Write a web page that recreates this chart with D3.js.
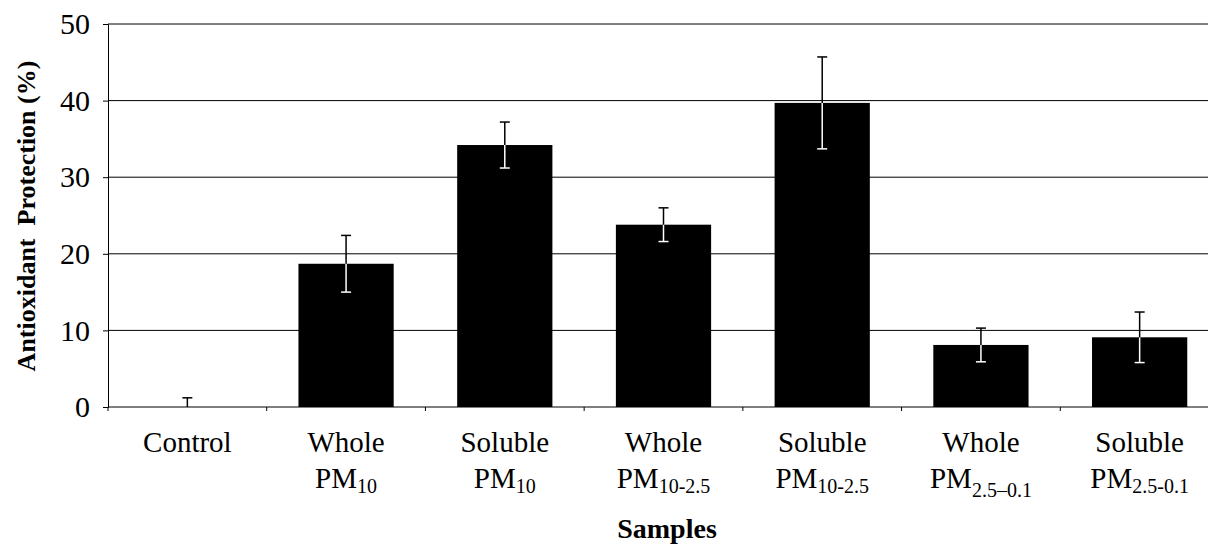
<!DOCTYPE html>
<html>
<head>
<meta charset="utf-8">
<script src="https://cdn.jsdelivr.net/npm/d3@7"></script>
<style>
	body { margin: 0; background: #fff; }
	svg text { font-family: "Liberation Serif", "DejaVu Serif", serif; }
</style>
</head>
<body>
<div class="chart"></div>
<script>
// data
const categories = ["Control", "Whole PM10", "Soluble PM10", "Whole PM10-2.5", "Soluble PM10-2.5", "Whole PM2.5-0.1 b", "Soluble PM2.5-0.1"];
const labelTop = ["Control", "Whole", "Soluble", "Whole", "Soluble", "Whole", "Soluble"];
const labelSub = ["", "10", "10", "10-2.5", "10-2.5", "2.5\u20130.1", "2.5-0.1"];
const subShift = [0, 5, 5, 5, 5, 9, 5];
const values = [0, 18.7, 34.2, 23.8, 39.7, 8.1, 9.1];
const errors = [1.2, 3.7, 3.0, 2.2, 6.0, 2.2, 3.3];
const yTicks = [0, 10, 20, 30, 40, 50];

const width = 1208;
const height = 545;
const margin = { left: 108, right: -11, top: 24, bottom: 138 };
const serif = "Liberation Serif";

const svg = d3.select(".chart").append("svg").attr("width", width).attr("height", height);

const x = d3
	.scaleBand()
	.domain(categories)
	.range([margin.left, width - margin.right])
	.paddingInner(0.4)
	.paddingOuter(0.2);

const y = d3
	.scaleLinear()
	.domain([0, 50])
	.range([height - margin.bottom, margin.top]);

// gridlines
svg.append("g")
	.selectAll("line")
	.data(yTicks.slice(1))
	.join("line")
	.attr("x1", margin.left)
	.attr("x2", width - margin.right)
	.attr("y1", (d) => y(d))
	.attr("y2", (d) => y(d))
	.attr("stroke", "#000")
	.attr("stroke-width", 1);

// bars
svg.append("g")
	.selectAll("rect")
	.data(values)
	.join("rect")
	.attr("x", (d, i) => x(categories[i]))
	.attr("width", x.bandwidth())
	.attr("y", (d) => y(d))
	.attr("height", (d) => y(0) - y(d))
	.attr("fill", "#000");

// error bars: white inside the bar, black above it
const err = svg.append("g").attr("stroke-width", 1.5);
values.forEach((v, i) => {
	const cx = x(categories[i]) + x.bandwidth() / 2;
	const lo = Math.max(0, v - errors[i]);
	const hi = v + errors[i];
	if (v > 0) {
		err.append("line").attr("x1", cx).attr("x2", cx).attr("y1", y(lo)).attr("y2", y(v)).attr("stroke", "#fff");
		err.append("line").attr("x1", cx - 5).attr("x2", cx + 5).attr("y1", y(lo)).attr("y2", y(lo)).attr("stroke", "#fff");
	}
	err.append("line").attr("x1", cx).attr("x2", cx).attr("y1", y(v)).attr("y2", y(hi)).attr("stroke", "#000");
	err.append("line").attr("x1", cx - 5).attr("x2", cx + 5).attr("y1", y(hi)).attr("y2", y(hi)).attr("stroke", "#000");
});

// y axis
const yAxis = svg
	.append("g")
	.attr("transform", `translate(${margin.left},0)`)
	.call(d3.axisLeft(y).tickValues(yTicks).tickSize(5).tickPadding(13))
	.attr("font-family", serif);
yAxis.select(".domain").attr("stroke", "#000");
yAxis.selectAll(".tick line").attr("stroke", "#000");
yAxis.selectAll("text").attr("font-size", 30).attr("fill", "#000");

// x axis line with ticks at category boundaries
const x0 = y(0);
svg.append("line")
	.attr("x1", margin.left)
	.attr("x2", width - margin.right)
	.attr("y1", x0)
	.attr("y2", x0)
	.attr("stroke", "#000");
svg.append("g")
	.selectAll("line")
	.data(d3.range(categories.length + 1))
	.join("line")
	.attr("x1", (i) => x.range()[0] + i * x.step())
	.attr("x2", (i) => x.range()[0] + i * x.step())
	.attr("y1", x0)
	.attr("y2", x0 + 4)
	.attr("stroke", "#000");

// x labels (two lines, subscript on second)
const labels = svg
	.append("g")
	.attr("font-family", serif)
	.attr("font-size", 29)
	.attr("text-anchor", "middle")
	.selectAll("g")
	.data(categories)
	.join("g")
	.attr("transform", (d) => `translate(${x(d) + x.bandwidth() / 2},0)`);
labels.append("text")
	.attr("y", x0 + 45)
	.text((d, i) => labelTop[i]);
labels.filter((d, i) => labelSub[i] !== "")
	.append("text")
	.attr("y", x0 + 81)
	.call((t) => t.append("tspan").text("PM"))
	.call((t) =>
		t.append("tspan")
			.attr("font-size", 20)
			.attr("dy", (d) => subShift[categories.indexOf(d)])
			.text((d) => labelSub[categories.indexOf(d)])
	);

// axis titles
svg.append("text")
	.attr("x", 667)
	.attr("y", 538)
	.attr("text-anchor", "middle")
	.attr("font-family", serif)
	.attr("font-weight", "bold")
	.attr("font-size", 28)
	.text("Samples");

svg.append("text")
	.attr("transform", "translate(35,216) rotate(-90)")
	.attr("text-anchor", "middle")
	.attr("font-family", serif)
	.attr("font-weight", "bold")
	.attr("font-size", 26)
	.style("white-space", "pre")
	.text("Antioxidant  Protection (%)");
</script>
</body>
</html>
